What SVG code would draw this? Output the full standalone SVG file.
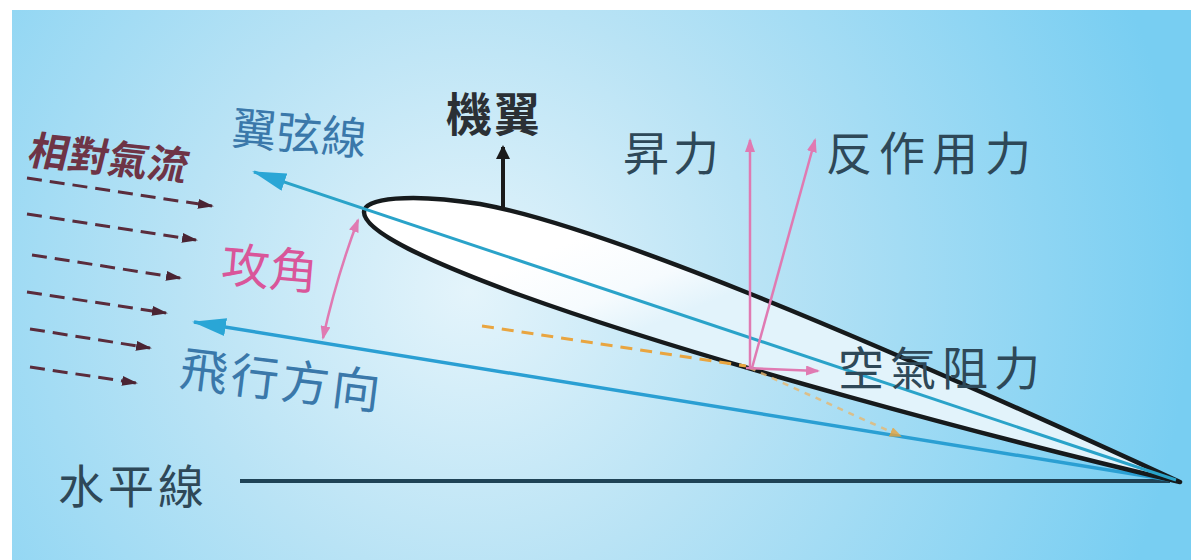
<svg xmlns="http://www.w3.org/2000/svg" width="1191" height="560" viewBox="0 0 1191 560">
  <defs>
    <radialGradient id="sky" gradientUnits="userSpaceOnUse" cx="470" cy="290" r="720">
      <stop offset="0" stop-color="#e4f4fb"/>
      <stop offset="0.4" stop-color="#b9e3f5"/>
      <stop offset="1" stop-color="#78cef2"/>
    </radialGradient>
    <linearGradient id="wingFill" gradientUnits="userSpaceOnUse" x1="600" y1="230" x2="640" y2="330">
      <stop offset="0" stop-color="#ffffff"/>
      <stop offset="0.6" stop-color="#f6fbfe"/>
      <stop offset="1" stop-color="#e2f3fb"/>
    </linearGradient>
    <marker id="headCyan" viewBox="0 0 34 18" refX="32" refY="9" markerWidth="34" markerHeight="18" markerUnits="userSpaceOnUse" orient="auto">
      <path d="M0,0 L34,9 L0,18 z" fill="#2aa6d6"/>
    </marker>
    <marker id="headBlack" viewBox="0 0 14 14" refX="12" refY="7" markerWidth="14" markerHeight="14" markerUnits="userSpaceOnUse" orient="auto">
      <path d="M0,0 L14,7 L0,14 z" fill="#1a1a1a"/>
    </marker>
    <marker id="headPink" viewBox="0 0 14 10" refX="12" refY="5" markerWidth="14" markerHeight="10" markerUnits="userSpaceOnUse" orient="auto">
      <path d="M0,0 L14,5 L0,10 z" fill="#e07ab2"/>
    </marker>
    <marker id="headPinkRev" viewBox="0 0 14 10" refX="2" refY="5" markerWidth="14" markerHeight="10" markerUnits="userSpaceOnUse" orient="auto">
      <path d="M14,0 L0,5 L14,10 z" fill="#e07ab2"/>
    </marker>
    <marker id="headMaroon" viewBox="0 0 16 10" refX="14" refY="5" markerWidth="16" markerHeight="10" markerUnits="userSpaceOnUse" orient="auto">
      <path d="M0,0 L16,5 L0,10 z" fill="#4a2433"/>
    </marker>
    <marker id="headOrange" viewBox="0 0 12 10" refX="10" refY="5" markerWidth="12" markerHeight="10" markerUnits="userSpaceOnUse" orient="auto">
      <path d="M0,0 L12,5 L0,10 z" fill="#eaa43a"/>
    </marker>
  </defs>
  <style>
    .t { font-family: "Noto Sans CJK TC", "Noto Sans CJK SC", sans-serif; }
    .dark { fill: #2e4858; }
    .blue { fill: #3a78aa; }
    .flow { stroke: #5a2c3c; stroke-width: 3; stroke-dasharray: 15 8; fill: none; marker-end: url(#headMaroon); }
    .pink { stroke: #e07ab2; stroke-width: 2.5; fill: none; }
  </style>

  <!-- page and sky panel -->
  <rect x="0" y="0" width="1191" height="560" fill="#ffffff"/>
  <rect x="12" y="10" width="1179" height="550" fill="url(#sky)"/>

  <!-- horizon line -->
  <g id="horizon">
    <line x1="240" y1="481" x2="1170" y2="481" stroke="#1f4356" stroke-width="4"/>
    <text class="t dark" x="58" y="503" font-size="46" letter-spacing="4">水平線</text>
  </g>

  <!-- connectors: flight path, chord, airflow -->
  <g id="connectors">
    <!-- relative airflow arrows -->
    <line class="flow" x1="27" y1="178" x2="212" y2="206"/>
    <line class="flow" x1="27" y1="214" x2="196" y2="240"/>
    <line class="flow" x1="32" y1="255" x2="180" y2="278"/>
    <line class="flow" x1="27" y1="292" x2="166" y2="313"/>
    <line class="flow" x1="30" y1="329" x2="150" y2="348"/>
    <line class="flow" x1="30" y1="367" x2="136" y2="383"/>
    <!-- flight direction -->
    <line x1="1176" y1="481" x2="194" y2="322" stroke="#2a9fd3" stroke-width="3.5" marker-end="url(#headCyan)"/>
  </g>

  <!-- wing -->
  <g id="wing">
    <path d="M364,212 C364,198 410,193 480,204 C600,226 850,330 1180,482 C1000,440 700,360 520,295 C430,262 364,232 364,212 Z"
          fill="url(#wingFill)" stroke="#161a1c" stroke-width="4.5" stroke-linejoin="round"/>
    <!-- chord line -->
    <line x1="1176" y1="480" x2="254" y2="172" stroke="#2aa3c9" stroke-width="3" marker-end="url(#headCyan)"/>
    <!-- relative wind through centre of pressure -->
    <path d="M482,326 L746,366" stroke="#e9a540" stroke-width="3" stroke-dasharray="12 8" fill="none"/>
    <path d="M750,368 L900,436" stroke="#e8b870" stroke-width="2.5" stroke-dasharray="6 6" fill="none" opacity="0.8" marker-end="url(#headOrange)"/>
    <line x1="503" y1="210" x2="503" y2="147" stroke="#1a1a1a" stroke-width="4" marker-end="url(#headBlack)"/>
    <text class="t" x="446" y="131" font-size="46" font-weight="bold" fill="#2b3035" letter-spacing="2">機翼</text>
  </g>

  <!-- forces -->
  <g id="forces">
    <line class="pink" x1="750" y1="368" x2="750" y2="140" marker-end="url(#headPink)"/>
    <line class="pink" x1="752" y1="368" x2="815" y2="140" marker-end="url(#headPink)"/>
    <line class="pink" x1="746" y1="368" x2="818" y2="371" stroke-width="3" marker-end="url(#headPink)"/>
    <text class="t dark" x="623" y="170" font-size="46" letter-spacing="4">昇力</text>
    <text class="t dark" x="826" y="170" font-size="46" letter-spacing="7">反作用力</text>
    <text class="t dark" x="838" y="385" font-size="46" letter-spacing="6">空氣阻力</text>
  </g>

  <!-- angle of attack -->
  <g id="angle">
    <path class="pink" d="M358,220 A860,860 0 0,0 323,338" stroke-width="2.5" marker-start="url(#headPinkRev)" marker-end="url(#headPink)"/>
    <text class="t" x="222" y="286" font-size="48" fill="#d9569a" transform="rotate(5 272 265)">攻角</text>
  </g>

  <!-- labels -->
  <g id="labels">
    <text class="t" x="0" y="0" font-size="40" font-weight="bold" fill="#6e3446" transform="translate(26,164) rotate(6) skewX(-8)">相對氣流</text>
    <text class="t blue" x="232" y="150" font-size="45" transform="rotate(5 300 130)">翼弦線</text>
    <text class="t blue" x="180" y="398" font-size="48" letter-spacing="3" transform="rotate(7 284 378)">飛行方向</text>
  </g>
</svg>
